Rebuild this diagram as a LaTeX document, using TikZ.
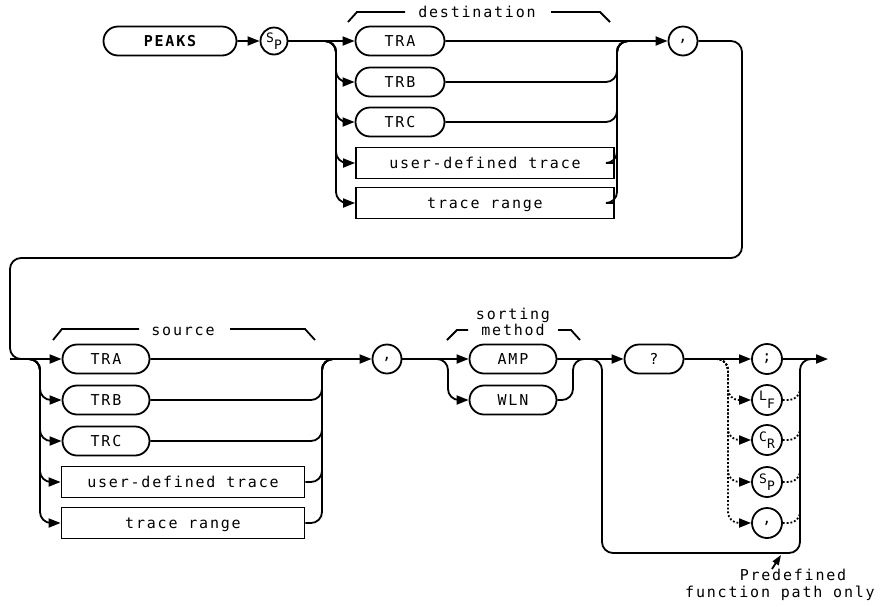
\documentclass[tikz,border=0pt]{standalone}
\usepackage{fontspec}
\newfontfamily\hpfont[LetterSpace=12]{DejaVu Sans Mono}
\usetikzlibrary{arrows.meta,shapes.misc}

\tikzset{
  every node/.style={font=\hpfont\fontsize{15}{16}\selectfont},
  kw/.style={draw,rounded rectangle,line width=1.8pt,minimum height=29pt,
    inner sep=0pt,text height=11pt,text depth=0pt},
  param/.style={draw,rectangle,line width=1.8pt,minimum height=31pt,minimum width=258pt,
    inner sep=0pt,text height=11pt,text depth=0pt},
  sym/.style={draw,circle,line width=1.8pt,minimum size=29pt,inner sep=0pt},
  lbl/.style={anchor=base},
  wire/.style={line width=1.8pt,rounded corners=11pt},
  feed/.style={wire,-{Triangle[length=12pt,width=9pt]}},
  dotwire/.style={wire,dotted},
  brk/.style={line width=1.8pt},
}
\newcommand{\lowhi}[2]{{\fontsize{13}{13}\selectfont\raisebox{3.5pt}{#1}\raisebox{-4pt}{#2}}}

\begin{document}
\begin{tikzpicture}[x=1pt,y=-1pt]
\useasboundingbox (0,0) rectangle (887,606);

% Keyword and destination
\node[kw,minimum width=133pt,font=\hpfont\bfseries\fontsize{15}{16}\selectfont] (peaks) at (170,41) {PEAKS};
\node[sym,minimum size=27pt] (sp1) at (274,41) {\lowhi{S}{P}};
\node[kw,minimum width=89pt] (dtra) at (400,41) {TRA};
\node[kw,minimum width=89pt] (dtrb) at (400,82) {TRB};
\node[kw,minimum width=89pt] (dtrc) at (400,122) {TRC};
\node[param] (dudt) at (485,163) {user-defined trace};
\node[param] (dtrr) at (485,203) {trace range};
\node[sym] (cm1) at (683,41) {,};

\node[lbl] (dlbl) at (477,17) {destination};
\draw[brk] (348,22) -- (357,12) -- (405,12);
\draw[brk] (551,12) -- (600,12) -- (610,22);

\coordinate (dbus) at (336,41);
\coordinate (dmrg) at (617,41);

\draw[feed] (peaks) -- (sp1);
\draw[feed] (sp1) -- (dtra);
\foreach \n in {dtrb,dtrc,dudt,dtrr}
  \draw[feed] (sp1.east) -- (dbus) |- (\n.west);
\draw[feed] (dtra) -- (cm1);
\foreach \n in {dtrb,dtrc,dudt,dtrr}
  \draw[wire] (\n.east) -| (dmrg) -- ++(18,0);

% Source
\node[kw,minimum width=87pt] (stra) at (106,359) {TRA};
\node[kw,minimum width=87pt] (strb) at (106,400) {TRB};
\node[kw,minimum width=87pt] (strc) at (106,441) {TRC};
\node[param,minimum width=243pt] (sudt) at (183,482) {user-defined trace};
\node[param,minimum width=243pt] (strr) at (183,523) {trace range};
\node[sym] (cm2) at (387,359) {,};

\node[lbl] (slbl) at (183,335) {source};
\draw[brk] (53,340) -- (62,329) -- (139,329);
\draw[brk] (230,329) -- (305,329) -- (315,340);

\coordinate (loopR) at (742,258);
\coordinate (loopL) at (10,359);
\coordinate (sbus) at (40,359);
\coordinate (smrg) at (322,359);

\draw[feed] (cm1.east) -| (loopR) -| (loopL) -- (stra.west);
\foreach \n in {strb,strc,sudt,strr}
  \draw[feed] (loopL) -- (sbus) |- (\n.west);
\draw[feed] (stra) -- (cm2);
\foreach \n in {strb,strc,sudt,strr}
  \draw[wire] (\n.east) -| (smrg) -- ++(18,0);

% Sorting method
\node[kw,minimum width=87pt] (amp) at (513,359) {AMP};
\node[kw,minimum width=87pt] (wln) at (513,400) {WLN};
\node[lbl] (mlbl1) at (513,319) {sorting};
\node[lbl] (mlbl2) at (513,335) {method};
\draw[brk] (447,340) -- (457,330) -- (468,330);
\draw[brk] (558,330) -- (571,330) -- (580,340);

\coordinate (mbus) at (448,359);
\coordinate (mmrg) at (573,359);

\draw[feed] (cm2) -- (amp);
\draw[feed] (cm2.east) -- (mbus) |- (wln.west);
\draw[wire] (wln.east) -| (mmrg) -- ++(16,0);

% Query and terminators
\node[kw,minimum width=59pt] (qry) at (654,359) {?};
\node[sym,minimum size=30pt] (semi) at (767,359) {;};
\node[sym,minimum size=30pt] (lf) at (767,400) {\lowhi{L}{F}};
\node[sym,minimum size=30pt] (cr) at (767,440) {\lowhi{C}{R}};
\node[sym,minimum size=30pt] (sp2) at (767,482) {\lowhi{S}{P}};
\node[sym,minimum size=30pt] (cm3) at (767,523) {,};

\coordinate (bypL) at (602,553);
\coordinate (bypR) at (800,359);
\coordinate (out) at (828,359);
\coordinate (dsp) at (716,359);
\coordinate (dotb) at (728,359);

\draw[feed] (amp) -- (qry);
\draw[feed] (qry) -- (semi);
\draw[feed] (semi) -- (out);
\draw[wire] (amp.east) -| (bypL) -| (bypR) -- ++(15,0);
\foreach \n in {lf,cr,sp2,cm3}
  \draw[dotwire,-{Triangle[length=12pt,width=9pt]}] (dsp) -- (dotb) |- (\n.west);
\foreach \n/\y in {lf/400,cr/440,sp2/482,cm3/523}
  \draw[dotwire] (\n.east) -| (800,{\y-12});

% Note
\draw[brk,-{Triangle[length=10pt,width=7pt]}] (772,569) -- (781,555);
\node[lbl] (nlbl1) at (793,580) {Predefined};
\node[lbl] (nlbl2) at (780,597) {function path only};

\end{tikzpicture}
\end{document}
